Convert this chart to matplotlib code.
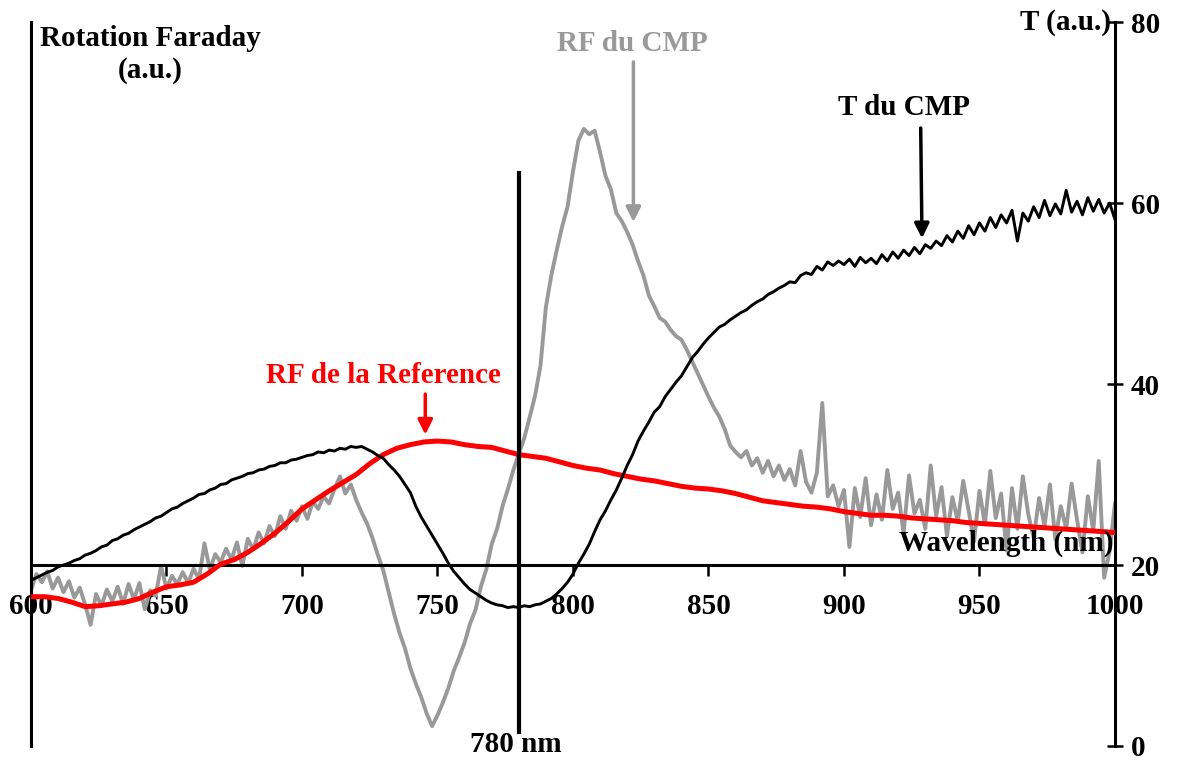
import numpy as np
import matplotlib
matplotlib.use('Agg')
import matplotlib.pyplot as plt

plt.rcParams['font.family'] = ['Liberation Serif', 'DejaVu Serif']
plt.rcParams['font.weight'] = 'bold'

# wavelength grid (nm), 2 nm sampling for the measured curves
wl = np.arange(600, 1001, 2)

# RF du CMP (grey)
rf_cmp = [
    17.2, 19.0, 18.1, 19.3, 17.4, 18.6, 17.0, 18.2, 16.4, 17.5,
    15.6, 13.4, 16.8, 15.5, 17.3, 16.0, 17.6, 15.7, 17.9, 16.2,
    18.0, 15.1, 17.2, 16.6, 19.9, 17.4, 18.8, 17.9, 19.2, 18.0,
    19.6, 18.4, 22.4, 19.5, 21.2, 20.3, 21.8, 20.6, 22.5, 19.9,
    22.9, 21.7, 23.6, 22.4, 24.3, 23.2, 25.4, 24.0, 26.0, 24.9,
    26.5, 25.1, 27.0, 26.2, 27.6, 26.8, 28.4, 29.8, 27.9, 28.9,
    27.2, 25.8, 24.6, 23.0, 21.1, 19.4, 17.0, 14.6, 12.5, 10.8,
    8.6, 6.9, 5.4, 3.6, 2.2, 3.4, 4.8, 6.4, 8.3, 9.8,
    11.4, 13.5, 15.0, 17.6, 19.5, 22.3, 24.0, 26.5, 28.4, 30.5,
    32.3, 34.0, 36.3, 38.7, 42.0, 48.5, 52.0, 54.8, 57.4, 59.6,
    63.5, 66.9, 68.2, 67.6, 68.0, 65.6, 63.0, 61.5, 58.9, 58.0,
    56.8, 55.4, 53.6, 52.0, 49.8, 48.6, 47.3, 46.9, 46.0, 45.3,
    44.9, 43.8, 42.5, 41.2, 39.9, 38.6, 37.4, 36.4, 35.0, 33.2,
    32.5, 31.9, 32.6, 31.0, 31.8, 30.2, 31.5, 29.8, 31.0, 29.4,
    30.6, 28.8, 32.6, 29.2, 28.0, 30.2, 37.9, 27.6, 28.8, 26.5,
    28.3, 22.0, 28.5, 25.3, 29.6, 24.4, 27.8, 25.0, 30.5, 26.2,
    28.0, 23.5, 29.9, 25.7, 27.2, 24.0, 31.0, 25.4, 28.6, 23.2,
    27.5, 24.8, 29.3, 26.0, 22.6, 28.2, 24.5, 30.4, 25.2, 27.9,
    21.6, 28.5, 24.0, 29.8, 25.6, 23.0, 27.4, 24.3, 28.9, 22.8,
    26.5, 24.0, 29.0, 25.0, 21.4, 27.6, 23.8, 31.5, 18.6, 21.5,
    26.8,
]

# T du CMP (black)
t_cmp = [
    18.3, 18.6, 18.9, 19.2, 19.4, 19.8, 20.0, 20.2, 20.5, 20.7,
    21.1, 21.3, 21.6, 22.0, 22.2, 22.7, 22.9, 23.3, 23.5, 23.9,
    24.2, 24.5, 24.8, 25.2, 25.4, 25.8, 26.2, 26.4, 26.8, 27.1,
    27.4, 27.8, 27.9, 28.3, 28.5, 28.9, 29.0, 29.4, 29.6, 29.8,
    30.1, 30.2, 30.5, 30.6, 30.9, 31.0, 31.3, 31.3, 31.6, 31.7,
    31.9, 32.1, 32.2, 32.5, 32.4, 32.7, 32.6, 32.9, 32.8, 33.1,
    33.0, 33.1, 32.8, 32.5, 32.1, 31.8, 31.1, 30.5, 29.8, 28.9,
    28.0, 26.5, 25.3, 24.3, 23.3, 22.3, 21.3, 20.2, 19.3, 18.6,
    17.9, 17.3, 16.9, 16.5, 16.1, 15.8, 15.6, 15.5, 15.3, 15.4,
    15.3, 15.5, 15.4, 15.6, 15.7, 16.0, 16.3, 16.8, 17.4, 18.1,
    19.0, 20.2, 21.2, 22.3, 23.7, 25.0, 26.0, 27.2, 28.3, 29.6,
    31.0, 32.2, 33.7, 34.8, 35.8, 36.9, 37.5, 38.6, 39.4, 40.2,
    40.9, 41.9, 42.9, 43.6, 44.4, 45.1, 45.7, 46.3, 46.6, 47.1,
    47.5, 47.9, 48.2, 48.7, 49.1, 49.4, 49.9, 50.2, 50.6, 50.9,
    51.3, 51.2, 52.0, 52.3, 52.1, 53.0, 52.6, 53.5, 53.1, 53.6,
    53.2, 53.8, 53.0, 54.0, 53.4, 53.9, 53.3, 54.3, 53.6, 54.6,
    53.9, 54.8, 54.2, 55.1, 54.4, 55.4, 55.0, 55.8, 55.3, 56.4,
    55.7, 56.9, 56.1, 57.5, 56.5, 57.8, 56.9, 58.4, 57.3, 58.7,
    57.8, 59.2, 55.8, 58.9, 58.0, 59.6, 58.4, 60.3, 58.6, 59.9,
    58.8, 61.4, 59.0, 60.2, 58.7, 60.6, 59.1, 60.4, 58.9, 60.0,
    58.2,
]

# RF de la Reference (red), smooth, 5 nm sampling
wl_ref = np.arange(600, 1001, 5)
rf_ref = [
    16.5, 16.5, 16.3, 15.9, 15.4, 15.5, 15.7, 15.9, 16.3, 17.0,
    17.6, 17.8, 18.1, 19.0, 20.1, 20.6, 21.4, 22.4, 23.5, 24.8,
    26.2, 27.2, 28.2, 29.1, 30.0, 31.2, 32.2, 32.9, 33.3, 33.6,
    33.7, 33.6, 33.3, 33.1, 33.0, 32.6, 32.2, 32.0, 31.8, 31.4,
    31.0, 30.7, 30.5, 30.1, 29.8, 29.5, 29.3, 29.0, 28.7, 28.5,
    28.4, 28.2, 27.9, 27.5, 27.1, 26.9, 26.7, 26.5, 26.4, 26.2,
    25.9, 25.7, 25.5, 25.5, 25.4, 25.2, 25.1, 25.0, 24.9, 24.7,
    24.6, 24.5, 24.4, 24.3, 24.2, 24.1, 24.0, 23.9, 23.8, 23.7,
    23.6,
]

x_ticks = [600, 650, 700, 750, 800, 850, 900, 950, 1000]
t_ticks = [0, 20, 40, 60, 80]

FS = 21

fig = plt.figure(figsize=(11.78, 7.62), dpi=100)
ax = fig.add_axes([0.0263, 0.021, 0.9202, 0.950])

ax.plot(wl, rf_cmp, color='#999999', lw=2.8, zorder=2)
ax.plot(wl_ref, rf_ref, color='#ff0000', lw=3.6, zorder=3)
ax.plot(wl, t_cmp, color='black', lw=2.1, zorder=4)

# 780 nm marker
ax.plot([780, 780], [1.5, 63.3], color='black', lw=3, zorder=5, clip_on=False)
ax.text(779, 0.2, '780 nm', ha='center', va='center', fontsize=FS, fontweight='bold', clip_on=False)

ax.set_xlim(600, 1000)
ax.set_ylim(0, 80)

ax.spines['top'].set_visible(False)
ax.spines['bottom'].set_position(('data', 20))
for s in ['left', 'right', 'bottom']:
    ax.spines[s].set_linewidth(2.2)

ax.set_xticks(x_ticks)
ax.set_xticklabels([str(v) for v in x_ticks])
ax.tick_params(axis='x', direction='out', length=8, width=1.8, pad=12, labelsize=FS)

ax.yaxis.tick_right()
ax.set_yticks(t_ticks)
ax.tick_params(axis='y', direction='inout', length=11, width=1.8, pad=6, labelsize=FS)
for lab in ax.get_xticklabels() + ax.get_yticklabels():
    lab.set_fontweight('bold')

# axis titles
ax.text(644, 76.4, 'Rotation Faraday\n(a.u.)', ha='center', va='center', multialignment='center',
        fontsize=FS, fontweight='bold', linespacing=1.2)
ax.text(998.5, 80.0, 'T (a.u.)', ha='right', va='center', fontsize=FS, fontweight='bold', clip_on=False)
ax.text(999.6, 22.4, 'Wavelength (nm)', ha='right', va='center', fontsize=FS, fontweight='bold')

# curve labels and arrows
ax.text(730, 40.9, 'RF de la Reference', ha='center', va='center', color='#ff0000', fontsize=FS, fontweight='bold')
ax.annotate('', xy=(745.5, 34.1), xytext=(745.5, 39.2),
            arrowprops=dict(arrowstyle='-|>', color='#ff0000', lw=2.5, mutation_scale=22))

ax.text(822, 77.6, 'RF du CMP', ha='center', va='center', color='#999999', fontsize=FS, fontweight='bold')
ax.annotate('', xy=(822.3, 57.6), xytext=(822.3, 75.9),
            arrowprops=dict(arrowstyle='-|>', color='#999999', lw=2.5, mutation_scale=22))

ax.text(922, 70.6, 'T du CMP', ha='center', va='center', color='black', fontsize=FS, fontweight='bold')
ax.annotate('', xy=(928.8, 55.8), xytext=(928.3, 68.6),
            arrowprops=dict(arrowstyle='-|>', color='black', lw=2.5, mutation_scale=22))

fig.savefig('out.png', dpi=100)
